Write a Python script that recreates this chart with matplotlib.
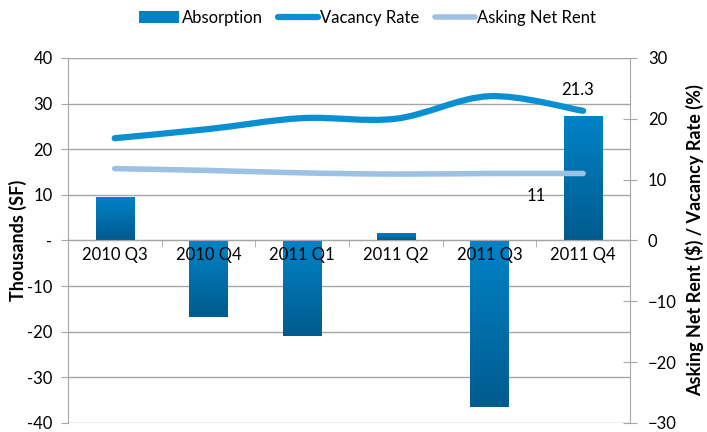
import numpy as np
import matplotlib
matplotlib.use("Agg")
import matplotlib.pyplot as plt
from matplotlib.path import Path
from matplotlib.patches import PathPatch, Patch
from matplotlib.lines import Line2D

plt.rcParams['font.family'] = ['Lato', 'DejaVu Sans']

# data
quarters = ['2010 Q3', '2010 Q4', '2011 Q1', '2011 Q2', '2011 Q3', '2011 Q4']
absorption = [9.5, -16.7, -21.0, 1.7, -36.6, 27.3]      # thousands SF
vacancy = [16.8, 18.3, 20.1, 20.0, 23.7, 21.3]          # %
rent = [11.8, 11.5, 11.1, 10.9, 11.0, 11.0]             # $

bar_top = '#0083c6'
bar_bot = '#005b8f'
vac_color = '#0b8fd3'
rent_color = '#9cc2e3'
grid_color = '#a6a6a6'
fs = 12


def smooth_path(xs, ys, t=1/6):
    # excel-like smoothed line: cubic bezier through the data points
    xs = np.asarray(xs, float)
    ys = np.asarray(ys, float)
    n = len(xs)
    verts = [(xs[0], ys[0])]
    codes = [Path.MOVETO]
    for i in range(n - 1):
        p0 = np.array([xs[max(i - 1, 0)], ys[max(i - 1, 0)]])
        p1 = np.array([xs[i], ys[i]])
        p2 = np.array([xs[i + 1], ys[i + 1]])
        p3 = np.array([xs[min(i + 2, n - 1)], ys[min(i + 2, n - 1)]])
        c1 = p1 + (p2 - p0) * t
        c2 = p2 - (p3 - p1) * t
        verts += [tuple(c1), tuple(c2), tuple(p2)]
        codes += [Path.CURVE4] * 3
    return Path(verts, codes)


fig = plt.figure(figsize=(7.07, 4.32), dpi=100)
ax = fig.add_axes([0.096, 0.021, 0.795, 0.845])
ax2 = ax.twinx()

x = np.arange(len(quarters))
bars = ax.bar(x, absorption, width=0.41, color=bar_top, zorder=2)

# vertical gradient inside each bar (lighter at top, darker at bottom)
grad = np.linspace(0, 1, 100).reshape(-1, 1)
cmap = matplotlib.colors.LinearSegmentedColormap.from_list('b', [bar_top, bar_bot])
for b in bars:
    x0, w = b.get_x(), b.get_width()
    y0, h = b.get_y(), b.get_height()
    lo, hi = min(y0, y0 + h), max(y0, y0 + h)
    im = ax.imshow(grad, cmap=cmap, aspect='auto', extent=(x0, x0 + w, lo, hi),
                   origin='upper', zorder=2.5)
    im.set_clip_path(b)

ax.set_xlim(-0.5, len(quarters) - 0.5)
ax.set_ylim(-40, 40)
ax.set_yticks(range(-40, 41, 10))
ax.set_yticklabels([str(v) if v != 0 else '-' for v in range(-40, 41, 10)])
ax.yaxis.grid(True, color=grid_color, linewidth=1)
ax.set_axisbelow(True)

ax.spines['top'].set_visible(False)
ax.spines['right'].set_visible(False)
ax.spines['left'].set_color(grid_color)
ax.spines['bottom'].set_position(('data', 0))
ax.spines['bottom'].set_color(grid_color)

# category labels drawn as text so they sit above the bars
ax.set_xticks(x)
ax.set_xticklabels([])
ax.set_xticks(np.arange(0.5, len(quarters) - 1, 1), minor=True)
ax.tick_params(axis='x', which='major', length=0)
ax.tick_params(axis='x', which='minor', length=5, color=grid_color, direction='out')
for xi, q in zip(x, quarters):
    ax.annotate(q, (xi, 0), xytext=(0, -5), textcoords='offset points',
                ha='center', va='top', fontsize=fs, zorder=6)

ax.tick_params(axis='y', length=5, color=grid_color, labelsize=fs, pad=6)
ax.set_ylabel('Thousands (SF)', fontsize=13, fontweight='bold', labelpad=0)

ax2.set_ylim(-30, 30)
ax2.set_yticks(range(-30, 31, 10))
for s in ['top', 'left', 'bottom']:
    ax2.spines[s].set_visible(False)
ax2.spines['right'].set_color(grid_color)
ax2.tick_params(axis='y', length=10, direction='inout', color=grid_color, labelsize=fs, pad=8)
ax2.set_ylabel('Asking Net Rent ($) / Vacancy Rate (%)', fontsize=13, fontweight='bold', labelpad=6)

ax2.add_patch(PathPatch(smooth_path(x, vacancy), fill=False, edgecolor=vac_color,
                        linewidth=4.5, capstyle='round', joinstyle='round', zorder=4))
ax2.add_patch(PathPatch(smooth_path(x, rent), fill=False, edgecolor=rent_color,
                        linewidth=4.0, capstyle='round', joinstyle='round', zorder=3))

ax2.annotate(f'{vacancy[-1]}', (x[-1], vacancy[-1]), xytext=(-4, 9), textcoords='offset points',
             ha='center', va='bottom', fontsize=fs)
ax2.annotate(f'{rent[-1]:g}', (x[-1], rent[-1]), xytext=(-34, -16), textcoords='offset points',
             ha='center', va='center', fontsize=fs)

handles = [Patch(facecolor=bar_top, edgecolor='none'),
           Line2D([], [], color=vac_color, linewidth=4.5, solid_capstyle='round'),
           Line2D([], [], color=rent_color, linewidth=4.0, solid_capstyle='round')]
fig.legend(handles, ['Absorption', 'Vacancy Rate', 'Asking Net Rent'], loc='center',
           bbox_to_anchor=(0.52, 0.958), ncol=3, frameon=False, fontsize=fs,
           handlelength=2.4, handletextpad=0.15, columnspacing=0.9)

fig.savefig('out.png', dpi=100)
